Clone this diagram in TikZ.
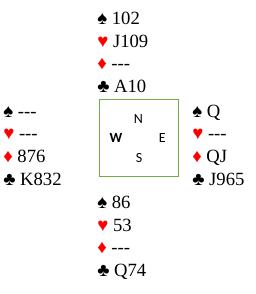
\documentclass[tikz,border=0pt]{standalone}
\usepackage{fontspec}
\newfontfamily\handfont{Liberation Serif}
\newfontfamily\dirfont{Carlito}
\usepackage{tikz}
\usetikzlibrary{positioning}

\definecolor{boxgreen}{RGB}{112,173,71}
\newcommand{\suitsym}[1]{\ifcase#1\relax ♠\or\textcolor{red}{♥}\or\textcolor{red}{♦}\or ♣\fi}

\begin{document}
\begin{tikzpicture}[x=0.75pt, y=-0.75pt,
    hand/.style={anchor=base west, inner sep=0pt, font=\handfont\fontsize{14}{17}\selectfont},
    dir/.style={inner sep=0pt, font=\dirfont\fontsize{10.5}{12}\selectfont}]
      \useasboundingbox (0,0) rectangle (256,294);

      \node[draw=boxgreen, line width=0.75pt, minimum width=59.25pt, minimum height=57.5pt] (table) at (138.8,138.3) {};
      \node[dir] (n) at (138.3,119) {N};
      \node[dir, font=\dirfont\bfseries\fontsize{10.5}{12}\selectfont] (w) at (116,138.3) {W};
      \node[dir] (e) at (162.3,138.3) {E};
      \node[dir] (s) at (139,158.3) {S};

      \foreach \i/\t in {0/102, 1/J109, 2/---, 3/A10} {
        \node[hand] (north\i) at (97,24.5+22.7*\i) {\suitsym{\i} \t};
      }
      \foreach \i/\t in {0/---, 1/---, 2/876, 3/K832} {
        \node[hand] (west\i) at (3,117+22.7*\i) {\suitsym{\i} \t};
      }
      \foreach \i/\t in {0/Q, 1/---, 2/QJ, 3/J965} {
        \node[hand] (east\i) at (192,117+22.7*\i) {\suitsym{\i} \t};
      }
      \foreach \i/\t in {0/86, 1/53, 2/---, 3/Q74} {
        \node[hand] (south\i) at (97,208.5+22.7*\i) {\suitsym{\i} \t};
      }
    \end{tikzpicture}
\end{document}
